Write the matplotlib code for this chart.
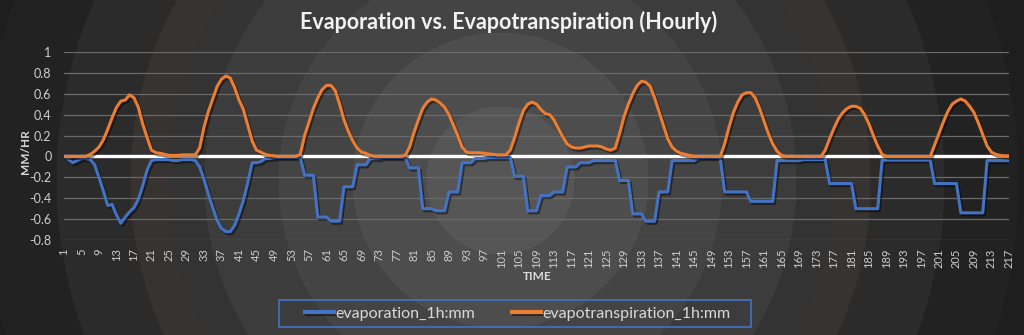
import numpy as np
import matplotlib
matplotlib.use("Agg")
import matplotlib.pyplot as plt
import matplotlib.patheffects as pe
from matplotlib.patches import Rectangle

plt.rcParams['font.family'] = ['Lato', 'DejaVu Sans']

# hourly values, mm per hour (evaporation is stored as negative)
evapotranspiration = [
    0.00, 0.00, 0.00, 0.00, 0.00, 0.00, 0.02, 0.05, 0.09, 0.16,
    0.26, 0.37, 0.47, 0.53, 0.54, 0.59, 0.56, 0.47, 0.31, 0.18,
    0.06, 0.035, 0.03, 0.02, 0.01, 0.01, 0.01, 0.015, 0.015, 0.015,
    0.015, 0.08, 0.28, 0.43, 0.55, 0.67, 0.74, 0.77, 0.75, 0.66,
    0.54, 0.45, 0.30, 0.15, 0.06, 0.04, 0.02, 0.01, 0.005, 0.00,
    0.00, 0.00, 0.00, 0.00, 0.02, 0.20, 0.33, 0.46, 0.56, 0.64,
    0.68, 0.68, 0.63, 0.50, 0.35, 0.24, 0.15, 0.08, 0.04, 0.03,
    0.01, 0.00, 0.00, 0.00, 0.00, 0.00, 0.00, 0.00, 0.01, 0.09,
    0.23, 0.35, 0.46, 0.52, 0.55, 0.54, 0.51, 0.47, 0.40, 0.30,
    0.20, 0.09, 0.04, 0.035, 0.035, 0.035, 0.03, 0.025, 0.02, 0.015,
    0.015, 0.015, 0.06, 0.18, 0.32, 0.44, 0.50, 0.52, 0.50, 0.45,
    0.41, 0.40, 0.35, 0.27, 0.19, 0.12, 0.09, 0.08, 0.08, 0.09,
    0.10, 0.10, 0.10, 0.09, 0.07, 0.06, 0.08, 0.22, 0.38, 0.50,
    0.60, 0.68, 0.72, 0.71, 0.67, 0.56, 0.43, 0.30, 0.17, 0.09,
    0.05, 0.03, 0.02, 0.01, 0.00, 0.00, 0.00, 0.00, 0.00, 0.00,
    0.00, 0.12, 0.28, 0.42, 0.52, 0.59, 0.61, 0.61, 0.56, 0.46,
    0.34, 0.22, 0.12, 0.05, 0.01, 0.00, 0.00, 0.00, 0.00, 0.00,
    0.00, 0.00, 0.00, 0.00, 0.06, 0.17, 0.27, 0.36, 0.42, 0.46,
    0.48, 0.48, 0.46, 0.40, 0.31, 0.20, 0.10, 0.02, 0.00, 0.00,
    0.00, 0.00, 0.00, 0.00, 0.00, 0.00, 0.00, 0.00, 0.00, 0.11,
    0.22, 0.33, 0.43, 0.50, 0.53, 0.55, 0.53, 0.48, 0.42, 0.32,
    0.21, 0.10, 0.04, 0.02, 0.01, 0.005, 0.005,
]

evaporation = [
    0.00, -0.03, -0.06, -0.04, -0.02, -0.02, -0.03, -0.08, -0.20, -0.33,
    -0.47, -0.46, -0.56, -0.64, -0.58, -0.53, -0.49, -0.41, -0.28, -0.13,
    -0.04, -0.03, -0.03, -0.03, -0.03, -0.04, -0.04, -0.03, -0.03, -0.03,
    -0.04, -0.10, -0.22, -0.36, -0.49, -0.61, -0.69, -0.72, -0.72, -0.66,
    -0.55, -0.42, -0.25, -0.06, -0.06, -0.05, -0.02, -0.02, -0.01, -0.01,
    -0.01, -0.01, -0.01, -0.01, -0.01, -0.18, -0.18, -0.18, -0.58, -0.58,
    -0.58, -0.62, -0.62, -0.62, -0.29, -0.29, -0.29, -0.08, -0.08, -0.08,
    -0.02, -0.02, -0.02, -0.01, -0.01, -0.01, -0.01, -0.01, -0.01, -0.11,
    -0.11, -0.11, -0.50, -0.50, -0.50, -0.52, -0.52, -0.52, -0.34, -0.34,
    -0.34, -0.06, -0.06, -0.06, -0.02, -0.02, -0.02, -0.01, -0.01, -0.01,
    -0.01, -0.01, -0.01, -0.19, -0.19, -0.19, -0.52, -0.52, -0.52, -0.375,
    -0.375, -0.375, -0.34, -0.34, -0.34, -0.10, -0.10, -0.10, -0.06, -0.06,
    -0.06, -0.04, -0.04, -0.04, -0.04, -0.04, -0.04, -0.23, -0.23, -0.23,
    -0.55, -0.55, -0.55, -0.62, -0.62, -0.62, -0.34, -0.34, -0.34, -0.04,
    -0.04, -0.04, -0.04, -0.04, -0.04, -0.01, -0.01, -0.01, -0.01, -0.01,
    -0.01, -0.34, -0.34, -0.34, -0.34, -0.34, -0.34, -0.43, -0.43, -0.43,
    -0.43, -0.43, -0.43, -0.04, -0.04, -0.04, -0.04, -0.04, -0.04, -0.03,
    -0.03, -0.03, -0.03, -0.03, -0.03, -0.26, -0.26, -0.26, -0.26, -0.26,
    -0.26, -0.50, -0.50, -0.50, -0.50, -0.50, -0.50, -0.035, -0.035, -0.035,
    -0.035, -0.035, -0.035, -0.035, -0.035, -0.035, -0.035, -0.035, -0.035, -0.26,
    -0.26, -0.26, -0.26, -0.26, -0.26, -0.54, -0.54, -0.54, -0.54, -0.54,
    -0.54, -0.04, -0.04, -0.04, -0.04, -0.04, -0.04,
]

hours = np.arange(1, len(evaporation) + 1)
yticks = [-0.8, -0.6, -0.4, -0.2, 0, 0.2, 0.4, 0.6, 0.8, 1]
ylabels = ['-0.8', '-0.6', '-0.4', '-0.2', '0', '0.2', '0.4', '0.6', '0.8', '1']

W, H = 1024, 335
fig = plt.figure(figsize=(W / 100, H / 100), dpi=100)
fig.patch.set_facecolor('#262626')

# banded radial background
bg = fig.add_axes([0, 0, 1, 1], zorder=-10)
yy, xx = np.mgrid[0:H, 0:W]
r = np.hypot(xx - 500, yy - 180)
band = np.floor(r / 74)
shade = np.clip(86 - band * 8.6, 30, 90)
img = np.dstack([shade, shade, shade]).astype(float)
warm = (r > 335) & (r < 372)
img[warm, 0] += 3
img[warm, 2] -= 2
bg.imshow(np.clip(img, 0, 255).astype(np.uint8), aspect='auto', interpolation='bilinear')
bg.axis('off')

ax = fig.add_axes([64 / W, 1 - 240 / H, (1009 - 64) / W, (240 - 52) / H])
ax.set_facecolor('none')
ax.set_xlim(1, len(hours))
ax.set_ylim(-0.8, 1)

for v in yticks:
    ax.axhline(v, color='#6a6a6a', lw=0.9, zorder=1)
ax.axhline(0, color='white', lw=2.4, zorder=2)

shadow = [pe.SimpleLineShadow(offset=(1.2, -1.5), shadow_color='black', alpha=0.45), pe.Normal()]
ax.plot(hours, evaporation, color='#4472C4', lw=2.2, zorder=3,
        label='evaporation_1h:mm', path_effects=shadow, solid_joinstyle='round')
ax.plot(hours, evapotranspiration, color='#ED7D31', lw=2.2, zorder=4,
        label='evapotranspiration_1h:mm', path_effects=shadow, solid_joinstyle='round')

for s in ax.spines.values():
    s.set_visible(False)
ax.set_yticks(yticks)
ax.set_yticklabels(ylabels)
ax.set_xticks(hours[::4])
ax.set_xticklabels([str(h) for h in hours[::4]], rotation=90)
ax.tick_params(axis='y', length=0, pad=9, labelsize=9, labelcolor='#cfcfcf')
ax.tick_params(axis='x', length=0, pad=6, labelsize=8, labelcolor='#cfcfcf')

fig.text(509 / W, 1 - 22 / H, 'Evaporation vs. Evapotranspiration (Hourly)',
         ha='center', va='center', fontsize=15.5, fontweight='bold', color='#f2f2f2')
fig.text(26 / W, 1 - 152 / H, 'MM/HR', ha='center', va='center', rotation=90,
         fontsize=8.5, fontweight='bold', color='#d9d9d9')
fig.text(537 / W, 1 - 277 / H, 'TIME', ha='center', va='center',
         fontsize=8.5, fontweight='bold', color='#d9d9d9')

fig.patches.append(Rectangle((279 / W, 1 - 327 / H), 472 / W, 27 / H, transform=fig.transFigure,
                             fill=False, edgecolor='#4472C4', lw=1.2))
leg = fig.legend(loc='center', bbox_to_anchor=(518 / W, 1 - 313.5 / H), ncol=2, frameon=False,
                 fontsize=11.5, handlelength=1.8, handletextpad=0.1, columnspacing=2.3)
for t in leg.get_texts():
    t.set_color('#d9d9d9')
for h in leg.legend_handles:
    h.set_linewidth(3.0)

fig.savefig('out.png', dpi=100, facecolor=fig.get_facecolor())
